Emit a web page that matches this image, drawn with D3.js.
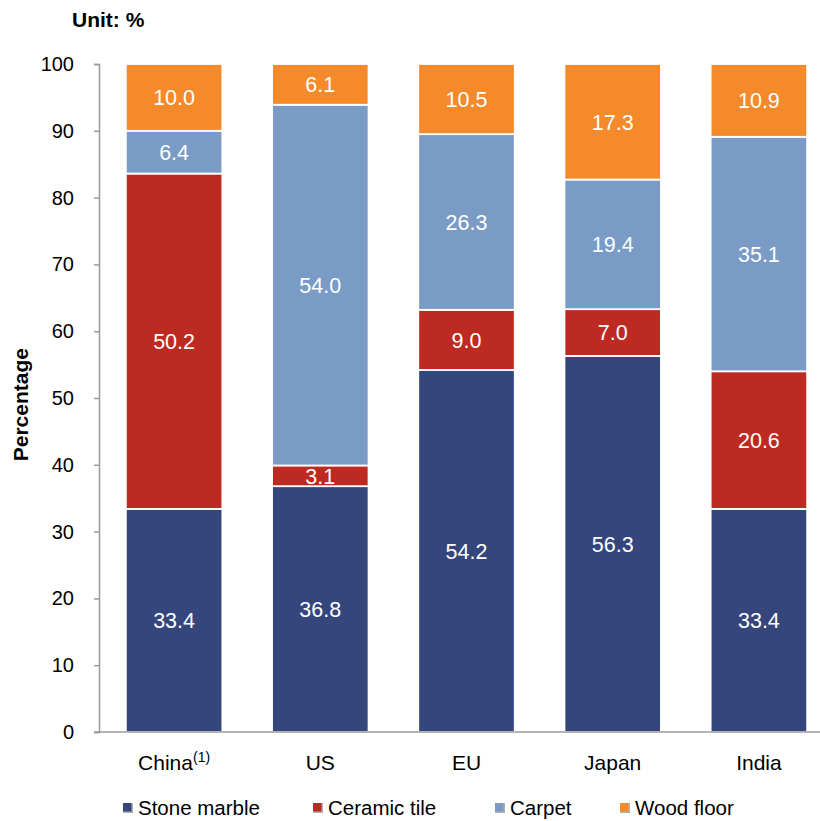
<!DOCTYPE html>
<html>
<head>
<meta charset="utf-8">
<script src="https://cdn.jsdelivr.net/npm/d3@7"></script>
<style>
  body { margin: 0; background: #fff; }
  svg { font-family: "Liberation Sans", Arial, sans-serif; }
</style>
</head>
<body>
<div id="chart"></div>
<script>
// DATA
let regions = ["China", "US", "EU", "Japan", "India"];
let seriesNames = ["Stone marble", "Ceramic tile", "Carpet", "Wood floor"];
let stoneMarble = [33.4, 36.8, 54.2, 56.3, 33.4];
let ceramicTile = [50.2, 3.1, 9.0, 7.0, 20.6];
let carpet = [6.4, 54.0, 26.3, 19.4, 35.1];
let woodFloor = [10.0, 6.1, 10.5, 17.3, 10.9];
let yTicks = [0, 10, 20, 30, 40, 50, 60, 70, 80, 90, 100];
let colors = ["#35467d", "#bd2a22", "#7a9bc6", "#f58a2a"];

// table for d3.stack
let table = regions.map((r, i) => ({
    region: r,
    "Stone marble": stoneMarble[i],
    "Ceramic tile": ceramicTile[i],
    "Carpet": carpet[i],
    "Wood floor": woodFloor[i]
}));

let W = 820, H = 821;
let svg = d3.select("#chart").append("svg")
    .attr("width", W)
    .attr("height", H);

// SCALES
let x = d3.scaleBand()
    .domain(regions)
    .range([101, 832])
    .paddingInner(0.34)
    .paddingOuter(0.17);

let y = d3.scaleLinear()
    .domain([0, 100])
    .range([732, 64]);

let color = d3.scaleOrdinal().domain(seriesNames).range(colors);

let stacked = d3.stack().keys(seriesNames)(table);

// ---- BARS ----
let layers = svg.append("g").selectAll("g")
    .data(stacked)
    .enter().append("g")
    .attr("fill", d => color(d.key));

layers.selectAll("rect")
    .data(d => d)
    .enter().append("rect")
    .attr("x", d => x(d.data.region))
    .attr("y", d => y(d[1]))
    .attr("width", x.bandwidth())
    .attr("height", d => y(d[0]) - y(d[1]))
    .attr("stroke", "#fff")
    .attr("stroke-width", 1.8);

// value labels
layers.selectAll("text")
    .data(d => d)
    .enter().append("text")
    .attr("x", d => x(d.data.region) + x.bandwidth() / 2)
    .attr("y", d => y((d[0] + d[1]) / 2))
    .attr("dy", "0.36em")
    .attr("text-anchor", "middle")
    .attr("fill", "#fff")
    .attr("font-size", 21.5)
    .text(d => (d[1] - d[0]).toFixed(1));

// ---- AXES ----
let yAxis = d3.axisLeft(y)
    .tickValues(yTicks)
    .tickSize(5)
    .tickPadding(20);

let yAxisGroup = svg.append("g")
    .attr("transform", "translate(99,0)")
    .call(yAxis);
yAxisGroup.select(".domain").attr("stroke", "#9a9a9a").attr("stroke-width", 1.5);
yAxisGroup.selectAll(".tick line").attr("stroke", "#9a9a9a").attr("stroke-width", 1.5);
yAxisGroup.selectAll(".tick text")
    .attr("font-size", 20)
    .attr("fill", "#000")
    .style("font-family", "'Liberation Sans', Arial, sans-serif");

// x axis line
svg.append("line")
    .attr("x1", 94).attr("x2", W)
    .attr("y1", y(0)).attr("y2", y(0))
    .attr("stroke", "#9a9a9a")
    .attr("stroke-width", 1.5);

// category labels
let cat = svg.append("g").selectAll("text")
    .data(regions)
    .enter().append("text")
    .attr("x", d => x(d) + x.bandwidth() / 2)
    .attr("y", 770)
    .attr("text-anchor", "middle")
    .attr("font-size", 21)
    .attr("fill", "#000");
cat.append("tspan").text(d => d);
cat.filter(d => d === "China").append("tspan")
    .attr("dy", -8)
    .attr("font-size", 14)
    .text("(1)");

// titles
svg.append("text")
    .attr("x", 72).attr("y", 27)
    .attr("font-size", 21)
    .attr("font-weight", "bold")
    .text("Unit: %");

svg.append("text")
    .attr("transform", "translate(28," + y(49) + ") rotate(-90)")
    .attr("text-anchor", "middle")
    .attr("font-size", 21)
    .attr("font-weight", "bold")
    .text("Percentage");

// ---- LEGEND ----
let legendX = [123, 313, 495, 620];
let legend = svg.append("g").selectAll("g")
    .data(seriesNames)
    .enter().append("g")
    .attr("transform", (d, i) => "translate(" + legendX[i] + ",803)");

legend.append("rect")
    .attr("width", 10).attr("height", 10)
    .attr("fill", "#b0b0b0");
legend.append("rect")
    .attr("x", 0).attr("y", 0)
    .attr("width", 8.5).attr("height", 8.5)
    .attr("fill", d => color(d));

legend.append("text")
    .attr("x", 15)
    .attr("y", 12)
    .attr("font-size", 20.5)
    .attr("fill", "#000")
    .text(d => d);
</script>
</body>
</html>
